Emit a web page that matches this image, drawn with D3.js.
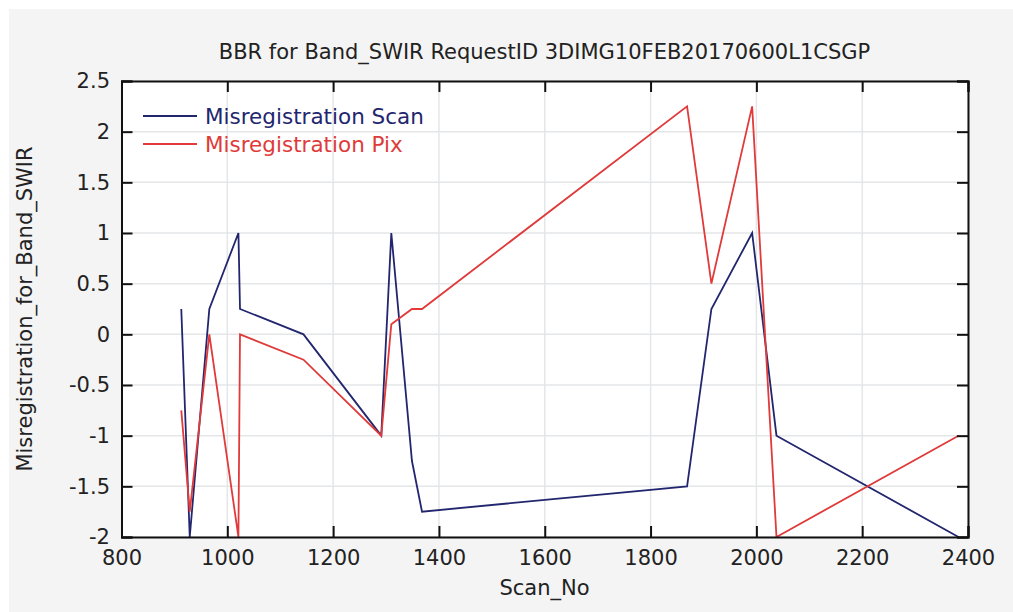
<!DOCTYPE html>
<html><head><meta charset="utf-8">
<script src="https://cdn.jsdelivr.net/npm/d3@7"></script>
<style>body{margin:0;background:#fff;} text{font-family:"DejaVu Sans",sans-serif;fill:#222;}</style>
</head><body>
<svg id="c" width="1013" height="612"></svg>
<script>
const scanNo = [913, 929, 966, 1021, 1024, 1144, 1291, 1310, 1349, 1368, 1869, 1915, 1992, 2038, 2382];
const misScan = [0.25, -2, 0.25, 1, 0.25, 0, -1, 1, -1.25, -1.75, -1.5, 0.25, 1, -1, -2];
const misPix = [-0.75, -1.75, 0, -2, 0, -0.25, -1, 0.1, 0.25, 0.25, 2.25, 0.5, 2.25, -2, -1];
const xTicks = [800, 1000, 1200, 1400, 1600, 1800, 2000, 2200, 2400];
const yTicks = [-2, -1.5, -1, -0.5, 0, 0.5, 1, 1.5, 2, 2.5];
const seriesNames = ["Misregistration Scan", "Misregistration Pix"];
const seriesColors = ["#22266e", "#e03a3a"];
const title = "BBR for Band_SWIR RequestID 3DIMG10FEB20170600L1CSGP";

const svg = d3.select("#c");
svg.append("rect").attr("x", 9).attr("y", 9).attr("width", 1004).attr("height", 603).attr("fill", "#f4f4f4");

const L = 121.5, R = 968, T = 81, B = 537;
const x = d3.scaleLinear().domain([800, 2400]).range([L, R]);
const y = d3.scaleLinear().domain([-2, 2.5]).range([B, T]);

svg.append("rect").attr("x", L).attr("y", T).attr("width", R - L).attr("height", B - T).attr("fill", "#fff");

// grid
const g = svg.append("g");
g.selectAll(".gx").data(xTicks).join("line")
  .attr("x1", d => x(d)).attr("x2", d => x(d)).attr("y1", T).attr("y2", B)
  .attr("stroke", "#e4e6e8").attr("stroke-width", 1.5);
g.selectAll(".gy").data(yTicks).join("line")
  .attr("y1", d => y(d)).attr("y2", d => y(d)).attr("x1", L).attr("x2", R)
  .attr("stroke", "#e4e6e8").attr("stroke-width", 1.5);

// lines
svg.append("clipPath").attr("id", "pc").append("rect")
  .attr("x", L).attr("y", T - 1).attr("width", R - L).attr("height", B - T + 2);
const line = d3.line().x(d => x(d[0])).y(d => y(d[1]));
[misScan, misPix].forEach((vals, i) => {
  svg.append("path").attr("clip-path", "url(#pc)")
    .datum(scanNo.map((s, j) => [s, vals[j]]))
    .attr("d", line).attr("fill", "none")
    .attr("stroke", seriesColors[i]).attr("stroke-width", 1.8).attr("stroke-linejoin", "miter");
});

// axes with inner ticks on all four sides
const tk = 11;
const fmt = d => String(d);
const axB = svg.append("g").attr("transform", `translate(0,${B})`)
  .call(d3.axisBottom(x).tickValues(xTicks).tickSize(-tk).tickPadding(13).tickFormat(fmt));
const axT = svg.append("g").attr("transform", `translate(0,${T})`)
  .call(d3.axisTop(x).tickValues(xTicks).tickSize(-tk).tickFormat(""));
const axL = svg.append("g").attr("transform", `translate(${L},0)`)
  .call(d3.axisLeft(y).tickValues(yTicks).tickSize(-tk).tickPadding(11.5).tickFormat(fmt));
const axR = svg.append("g").attr("transform", `translate(${R},0)`)
  .call(d3.axisRight(y).tickValues(yTicks).tickSize(-tk).tickFormat(""));
[axB, axT, axL, axR].forEach(a => {
  a.select(".domain").attr("stroke", "#111").attr("stroke-width", 2);
  a.selectAll(".tick line").attr("stroke", "#111").attr("stroke-width", 2);
  a.selectAll(".tick text").style("font-family", '"DejaVu Sans",sans-serif').style("font-size", "21px").attr("fill", "#222");
});

// title & axis labels
svg.append("text").attr("x", 544.5).attr("y", 52).attr("text-anchor", "middle")
  .attr("dominant-baseline", "central").style("font-size", "21px").text(title);
svg.append("text").attr("x", 544.5).attr("y", 588).attr("text-anchor", "middle")
  .attr("dominant-baseline", "central").style("font-size", "21px").text("Scan_No");
svg.append("text").attr("transform", "translate(25,309) rotate(-90)").attr("text-anchor", "middle")
  .attr("dominant-baseline", "central").style("font-size", "21px").text("Misregistration_for_Band_SWIR");

// legend
seriesNames.forEach((n, i) => {
  const ly = 116 + i * 28;
  svg.append("line").attr("x1", 143).attr("x2", 197).attr("y1", ly).attr("y2", ly)
    .attr("stroke", seriesColors[i]).attr("stroke-width", 1.8);
  svg.append("text").attr("x", 205).attr("y", ly).attr("dominant-baseline", "central")
    .style("font-size", "21.5px").style("fill", seriesColors[i]).text(n);
});
</script>
</body></html>
